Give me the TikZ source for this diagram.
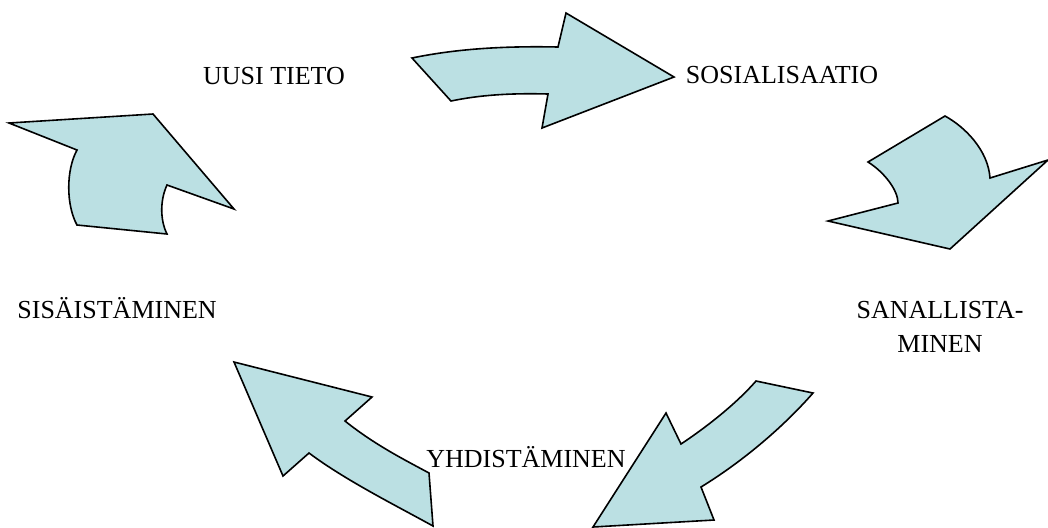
\documentclass[tikz,border=0pt]{standalone}
\usepackage{fontspec}
\setmainfont{Liberation Serif}
\usepackage{tikz}
\usetikzlibrary{positioning}
\definecolor{arrowfill}{RGB}{187,224,227}
\tikzset{
    x=0.5pt, y=-0.5pt, % one unit is one pixel of the reference
    blockarrow/.style={fill=arrowfill, draw=black, line width=0.8pt, line join=miter}, % the curved block arrows
    phase/.style={font=\fontsize{13}{17}\selectfont, inner sep=0pt, align=center}, % the names of the phases
}
\def\arrowsosial{(412,58) .. controls (460,48) and (510,46) .. (558,47) -- (566,13) -- (674,77) -- (542,128) -- (548,94) .. controls (510,93) and (480,95) .. (451,101) -- cycle}
\def\arrowsanall{(868,162) -- (945,116) .. controls (965,127) and (988,150) .. (990,178) -- (1048,160) -- (950,249) -- (828,221) -- (898,203) .. controls (898,190) and (884,172) .. (868,162) -- cycle}
\def\arrowyhdist{(756,381) -- (813,393) .. controls (785,425) and (745,460) .. (701,487) -- (714,520) -- (593,527) -- (666,413) -- (681,444) .. controls (705,428) and (735,405) .. (756,381) -- cycle}
\def\arrowsisais{(234,362) -- (372,397) -- (345,421) .. controls (375,445) and (405,460) .. (429,473) -- (433,526) .. controls (395,505) and (345,480) .. (309,453) -- (283,476) -- cycle}
\def\arrowuusi{(9,123) -- (153,114) -- (234,209) -- (167,185) .. controls (160,200) and (160,220) .. (167,234) -- (77,225) .. controls (66,205) and (66,170) .. (77,150) -- cycle}

\begin{document}
\begin{tikzpicture}
    \useasboundingbox (0,0) rectangle (1048,527);
    \filldraw[blockarrow] \arrowsosial;
    \filldraw[blockarrow] \arrowsanall;
    \filldraw[blockarrow] \arrowyhdist;
    \filldraw[blockarrow] \arrowsisais;
    \filldraw[blockarrow] \arrowuusi;
    \node[phase, anchor=base] (uusi) at (274,84) {UUSI TIETO};
    \node[phase, anchor=base] (sosial) at (782,83) {SOSIALISAATIO};
    \node[phase, anchor=base] (sanall) at (940,352) {SANALLISTA-\\MINEN};
    \node[phase, anchor=base] (yhdist) at (526,467) {YHDISTÄMINEN};
    \node[phase, anchor=base west] (sisais) at (17,318) {SISÄISTÄMINEN};
\end{tikzpicture}
\end{document}
